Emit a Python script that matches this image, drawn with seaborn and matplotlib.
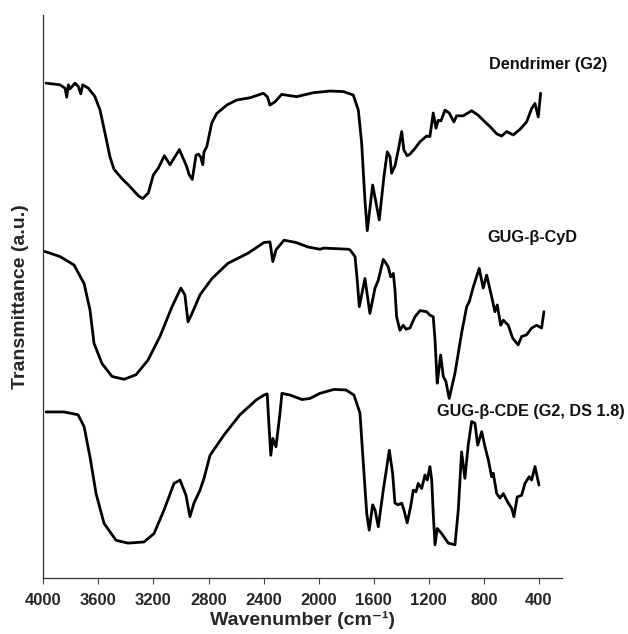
import matplotlib
matplotlib.use("Agg")
import matplotlib.pyplot as plt
import seaborn as sns
import pandas as pd

# ---- data (wavenumber in cm-1, transmittance in a.u. with vertical offsets) ----
dend_w = [3980, 3879, 3842, 3830, 3818, 3806, 3770, 3746, 3728, 3714, 3673, 3625, 3588, 3552,
          3516, 3487, 3431, 3370, 3310, 3278, 3237, 3201, 3165, 3121, 3080, 3012, 2959, 2940,
          2918, 2891, 2874, 2857, 2842, 2833, 2813, 2777, 2741, 2668, 2596, 2499, 2402, 2373,
          2354, 2317, 2269, 2160, 2039, 1918, 1821, 1749, 1712, 1688, 1664, 1647, 1608, 1560,
          1526, 1502, 1482, 1470, 1446, 1422, 1397, 1381, 1357, 1337, 1301, 1264, 1216, 1192,
          1168, 1148, 1132, 1112, 1083, 1052, 1018, 998, 950, 889, 841, 792, 756, 707, 671,
          635, 587, 538, 490, 453, 429, 405, 388]
dend_t = [87.9, 87.6, 87.0, 85.4, 87.6, 86.9, 87.9, 87.3, 86.0, 87.6, 87.0, 85.5, 83.1, 79.0,
          74.8, 72.6, 71.0, 69.5, 67.9, 67.4, 68.4, 71.6, 72.8, 75.0, 73.4, 76.1, 73.1, 71.6,
          70.8, 75.1, 75.3, 74.8, 73.4, 75.7, 76.6, 80.8, 82.5, 84.0, 84.9, 85.3, 86.1, 85.5,
          84.0, 84.6, 85.9, 85.5, 86.2, 86.5, 86.4, 85.8, 83.1, 77.3, 67.1, 61.7, 69.8, 63.6,
          71.3, 75.7, 74.8, 71.9, 73.2, 76.0, 79.3, 76.0, 75.0, 75.3, 76.3, 77.5, 78.5, 78.4,
          82.6, 79.9, 81.3, 81.2, 83.1, 82.6, 81.0, 82.1, 82.1, 83.0, 82.2, 81.0, 80.2, 78.9, 78.5,
          79.3, 78.7, 79.7, 81.0, 83.4, 84.3, 81.9, 86.1]

cyd_w = [3989, 3879, 3777, 3704, 3661, 3632, 3574, 3501, 3414, 3327, 3240, 3153, 3065, 3001,
         2972, 2949, 2920, 2862, 2775, 2659, 2513, 2397, 2354, 2333, 2310, 2252, 2165, 2078,
         1991, 1962, 1787, 1773, 1736, 1720, 1705, 1664, 1628, 1591, 1567, 1531, 1511, 1495,
         1477, 1458, 1446, 1434, 1410, 1386, 1366, 1337, 1301, 1264, 1216, 1192, 1168, 1155,
         1143, 1139, 1114, 1095, 1076, 1052, 1010, 962, 925, 906, 877, 834, 805, 780, 744,
         720, 703, 678, 659, 623, 591, 551, 526, 490, 453, 417, 381, 364]
cyd_t = [58.0, 57.1, 55.6, 52.3, 47.6, 41.7, 38.1, 35.8, 35.3, 36.1, 38.7, 42.9, 48.2, 51.5,
         50.3, 45.5, 47.0, 50.3, 53.2, 55.9, 57.7, 59.6, 59.7, 56.2, 58.3, 60.0, 59.6, 58.8,
         58.4, 58.6, 58.4, 58.3, 57.1, 52.9, 48.2, 53.2, 47.0, 51.5, 52.9, 56.6, 55.9, 55.3,
         53.5, 54.1, 51.2, 46.4, 44.0, 44.9, 44.2, 44.4, 46.4, 47.5, 47.3, 46.7, 46.4, 42.3,
         36.4, 34.6, 39.6, 35.8, 34.9, 31.9, 36.4, 43.5, 48.2, 49.1, 51.7, 55.0, 51.5, 53.8, 50.0,
         47.3, 48.5, 44.9, 45.8, 44.9, 42.6, 41.4, 42.9, 43.2, 44.4, 44.9, 44.4, 47.3]

cde_w = [3980, 3850, 3748, 3704, 3661, 3617, 3559, 3472, 3385, 3269, 3196, 3123, 3051, 3007,
         2964, 2935, 2906, 2862, 2833, 2789, 2688, 2572, 2455, 2397, 2374, 2362, 2348, 2333,
         2310, 2281, 2267, 2208, 2121, 2063, 1991, 1889, 1802, 1744, 1700, 1676, 1651, 1633,
         1608, 1591, 1567, 1531, 1487, 1463, 1446, 1422, 1397, 1381, 1357, 1332, 1313, 1293,
         1277, 1252, 1228, 1211, 1192, 1179, 1168, 1155, 1139, 1107, 1059, 1010, 986, 962,
         938, 914, 889, 865, 845, 816, 792, 768, 744, 732, 707, 683, 659, 623, 598, 582, 558,
         526, 502, 471, 453, 429, 413, 400]
cde_t = [29.5, 29.5, 29.0, 26.9, 21.5, 15.0, 9.7, 6.7, 6.2, 6.4, 7.9, 12.1, 16.8, 17.4,
         14.7, 10.9, 13.3, 15.6, 17.7, 21.8, 25.4, 29.0, 31.6, 32.5, 32.7, 27.5, 21.8, 24.8,
         23.3, 29.3, 32.8, 32.5, 31.7, 31.9, 32.8, 33.5, 33.4, 32.5, 29.3, 20.4, 11.5, 8.5,
         13.0, 12.1, 9.1, 15.6, 22.7, 18.6, 13.3, 13.0, 13.3, 12.1, 9.8, 12.7, 15.6, 15.3,
         16.8, 15.9, 18.3, 17.4, 19.8, 17.4, 11.5, 5.9, 8.8, 7.9, 6.2, 5.9, 12.1, 22.4,
         17.7, 23.6, 27.8, 27.5, 23.6, 26.0, 23.3, 21.0, 18.0, 18.6, 15.0, 14.2, 15.0, 13.3, 12.4, 10.9, 14.4,
         14.7, 16.8, 18.0, 17.4, 19.8, 18.0, 16.5]

labels = ["Dendrimer (G2)", "GUG-\u03b2-CyD", "GUG-\u03b2-CDE (G2, DS 1.8)"]
xticks = [4000, 3600, 3200, 2800, 2400, 2000, 1600, 1200, 800, 400]

frames = []
for name, w, t in [(labels[0], dend_w, dend_t), (labels[1], cyd_w, cyd_t), (labels[2], cde_w, cde_t)]:
    frames.append(pd.DataFrame({"wavenumber": w, "T": t, "sample": name}))
df = pd.concat(frames, ignore_index=True)

sns.set_theme(style="ticks")
plt.rcParams["font.family"] = ["Liberation Sans", "DejaVu Sans"]
plt.rcParams["font.weight"] = "bold"
plt.rcParams["lines.solid_joinstyle"] = "round"
plt.rcParams["lines.solid_capstyle"] = "round"

fig = plt.figure(figsize=(6.28, 6.34), dpi=100)
ax = fig.add_axes([0.069, 0.0883, 0.8254, 0.888])

for name in labels:
    sub = df[df["sample"] == name]
    sns.lineplot(data=sub, x="wavenumber", y="T", sort=False, color="black",
                 linewidth=2.0, ax=ax, legend=False, estimator=None)

ax.set_xlim(4000, 235)
ax.set_ylim(0, 100)
ax.set_xticks(xticks)
ax.set_xticklabels([str(v) for v in xticks], fontsize=12, fontweight="bold")
ax.set_yticks([])
ax.tick_params(axis="x", direction="out", length=4.5, width=0.8, color="#444444", pad=6.5)
for side in ["top", "right"]:
    ax.spines[side].set_visible(False)
for side in ["left", "bottom"]:
    ax.spines[side].set_linewidth(0.9)
    ax.spines[side].set_color("#333333")

ax.set_xlabel("Wavenumber (cm\u207b\u00b9)", fontsize=14, fontweight="bold", labelpad=2)
ax.set_ylabel("Transmittance (a.u.)", fontsize=14, fontweight="bold", labelpad=10)

text_pos = [(763, 91.3), (778, 60.4), (1141, 29.5)]
for name, (xw, yt) in zip(labels, text_pos):
    ax.text(xw, yt, name, ha="left", va="center", fontsize=11.7, fontweight="bold",
            color="#111111", clip_on=False)

fig.savefig("out.png", dpi=100)
